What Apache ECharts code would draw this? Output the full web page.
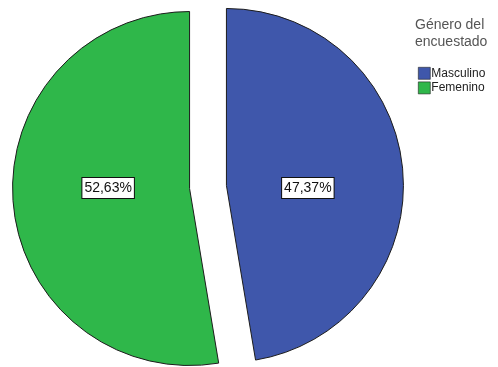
<!DOCTYPE html>
<html>
<head>
<meta charset="utf-8">
<script src="https://cdn.jsdelivr.net/npm/echarts@6/dist/echarts.min.js"></script>
<style>
  html, body { margin: 0; padding: 0; background: #fff; }
  #chart { width: 498px; height: 367px; }
</style>
</head>
<body>
<div id="chart"></div>
<script>
// Survey respondents by gender (percent)
const categories = ['Masculino', 'Femenino'];
const percents = [47.37, 52.63];
const sliceColors = ['#3f57ab', '#2fb74a'];
const legendTitle = 'Género del\nencuestado';

const PIE_CENTER = [208, 187];
const PIE_RADIUS = 177;
const SLICE_OFFSET = 18.5;
const LABEL_DIST = 0.46 * PIE_RADIUS;

const fmtPct = v => v.toFixed(2).replace('.', ',') + '%';

// value boxes sit on the horizontal through the pie centre,
// on the side of each slice's mid-angle (clockwise from 12 o'clock)
const total = percents.reduce((a, b) => a + b, 0);
let acc = 0;
const valueLabels = percents.map(v => {
  const mid = (acc + v / 2) / total * 2 * Math.PI;
  acc += v;
  const side = Math.sin(mid) >= 0 ? 1 : -1;
  const sliceCx = PIE_CENTER[0] + SLICE_OFFSET * Math.sin(mid);
  return {
    type: 'text',
    x: sliceCx + side * LABEL_DIST,
    y: PIE_CENTER[1] + 1,
    z: 10,
    style: {
      text: fmtPct(v),
      align: 'center',
      verticalAlign: 'middle',
      font: '14px "Liberation Sans", Arial, sans-serif',
      fill: '#111',
      backgroundColor: '#ffffff',
      borderColor: '#111',
      borderWidth: 1,
      padding: [3, 2, 3, 2]
    }
  };
});

const chart = echarts.init(document.getElementById('chart'), null, { renderer: 'canvas' });

const pieData = categories.map((name, i) => ({
  name: name,
  value: percents[i],
  selected: true,
  itemStyle: { color: sliceColors[i] }
}));

chart.setOption({
  animation: false,
  backgroundColor: '#ffffff',
  textStyle: { fontFamily: 'Liberation Sans, Arial, sans-serif' },
  graphic: [{
    type: 'text',
    left: 415,
    top: 17,
    style: {
      text: legendTitle,
      fill: '#555',
      font: '14px "Liberation Sans", Arial, sans-serif',
      lineHeight: 17
    }
  }].concat(valueLabels),
  legend: {
    orient: 'vertical',
    left: 413,
    top: 62,
    itemWidth: 12,
    itemHeight: 12,
    itemGap: 2,
    icon: 'rect',
    selectedMode: false,
    itemStyle: { borderColor: '#222', borderWidth: 0.6 },
    textStyle: { fontSize: 12, color: '#222', padding: [0, 0, 0, -4] },
    data: categories
  },
  series: [{
    type: 'pie',
    center: PIE_CENTER,
    radius: ['0%', PIE_RADIUS],
    startAngle: 90,
    clockwise: true,
    selectedMode: 'multiple',
    selectedOffset: SLICE_OFFSET,
    avoidLabelOverlap: false,
    emphasis: { disabled: true },
    itemStyle: { borderColor: '#1c1c1c', borderWidth: 1 },
    label: { show: false },
    labelLine: { show: false },
    data: pieData
  }]
});
</script>
</body>
</html>
